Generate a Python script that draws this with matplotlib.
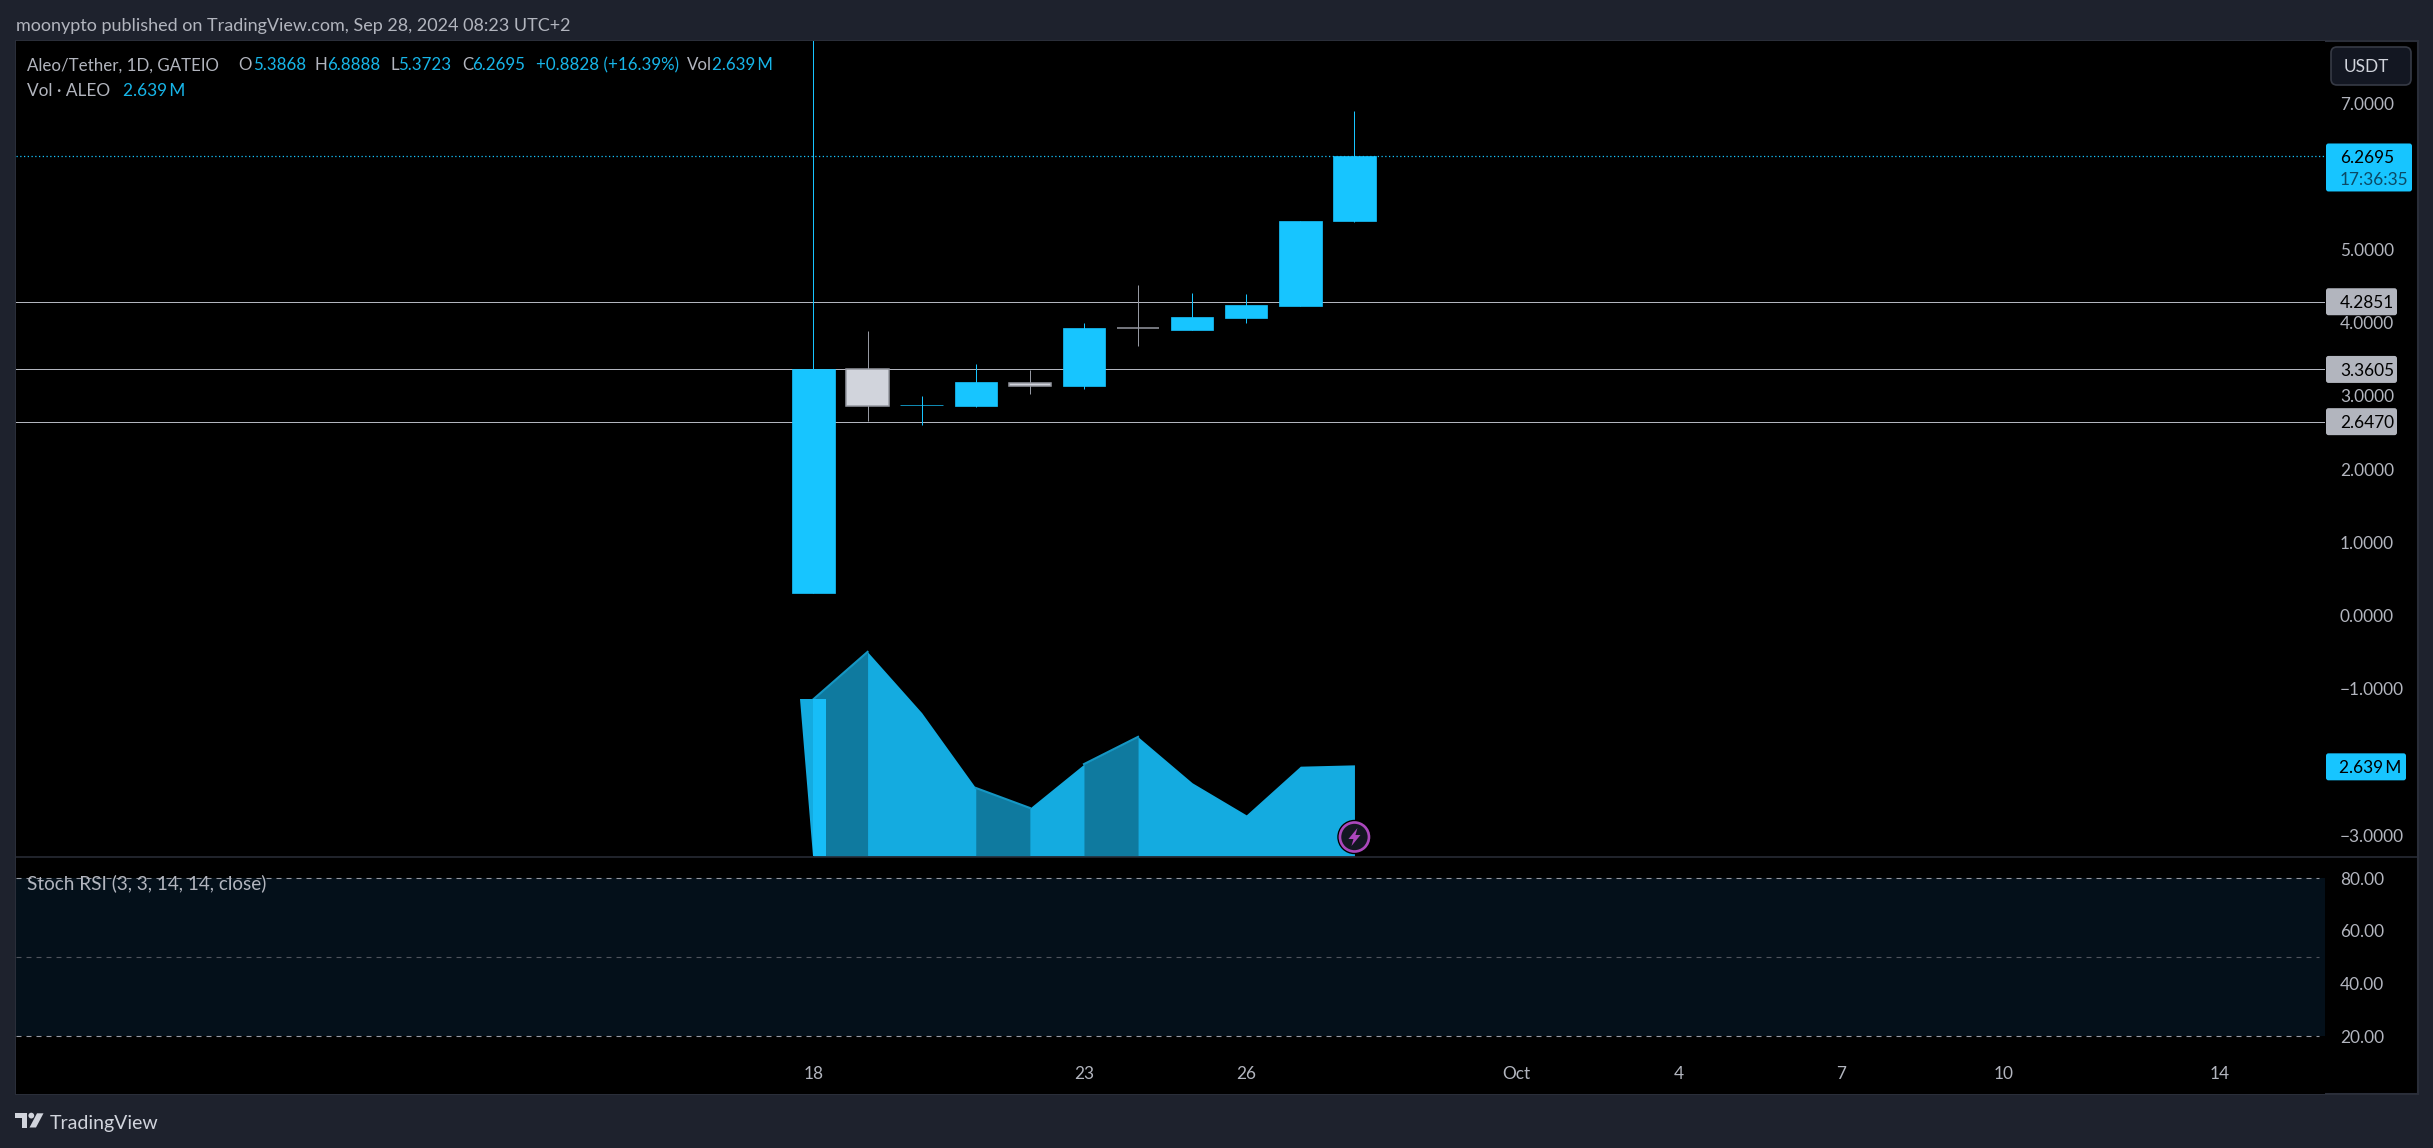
import matplotlib
matplotlib.use("Agg")
import matplotlib.pyplot as plt
import numpy as np
from matplotlib.patches import Circle, FancyBboxPatch, Polygon, Rectangle

W, H = 2433, 1148
plt.rcParams["font.family"] = ["Lato", "DejaVu Sans"]

# daily candles, Sep 18 - Sep 28
opens = [0.30, 3.36, 2.87, 2.86, 3.17, 3.13, 3.925, 3.90, 4.06, 4.23, 5.3868]
highs = [9.00, 3.885, 3.00, 3.435, 3.35, 3.995, 4.51, 4.405, 4.39, 5.39, 6.8888]
lows = [0.30, 2.66, 2.607, 2.85, 3.03, 3.09, 3.68, 3.90, 3.995, 4.23, 5.3723]
closes = [3.36, 2.865, 2.875, 3.19, 3.14, 3.93, 3.92, 4.08, 4.24, 5.39, 6.2695]
volumes = [4.54, 5.91, 4.15, 1.97, 1.39, 2.66, 3.45, 2.12, 1.19, 2.60, 2.639]
vol_dark = [1, 0, 0, 1, 0, 1, 0, 0, 0, 0]

levels = [4.2851, 3.3605, 2.6470]
last_price = 6.2695
price_ticks = [7, 5, 4, 3, 2, 1, 0, -1, -3]
stoch_ticks = [80, 60, 40, 20]
stoch_lines = [80, 50, 20]
date_pos = [0, 5, 8, 13, 16, 19, 22, 26]
date_labels = ["18", "23", "26", "Oct", "4", "7", "10", "14"]

BG = "#1e222d"
BORDER = "#2a2e39"
TXT = "#b2b5be"
BLUE = "#17c5ff"
LEG_BLUE = "#17b5e8"
GREY = "#9598a1"
FS = 12.4
X0, X1 = -14.75, 27.94


def box(left, top, right, bottom):
    return [left / W, 1 - bottom / H, (right - left) / W, (bottom - top) / H]


fig = plt.figure(figsize=(W / 100, H / 100), dpi=100, facecolor=BG)

# black pane behind everything, price scale included
bg = fig.add_axes([0, 0, 1, 1], zorder=0)
bg.set_xlim(0, W)
bg.set_ylim(H, 0)
bg.axis("off")
bg.add_patch(Rectangle((15.5, 41), 2402.5, 1053, fc="black", ec=BORDER, lw=1.5))

ax = fig.add_axes(box(15.5, 41, 2325, 857), zorder=1, facecolor="black")
ax_st = fig.add_axes(box(15.5, 857, 2325, 1094), zorder=1, facecolor="black")
for a in (ax, ax_st):
    for s in a.spines.values():
        s.set_visible(False)
    a.set_xlim(X0, X1)

x = np.arange(len(closes))
ax.set_ylim(-3.30, 7.847)

for lv in levels:
    ax.axhline(lv, color=TXT, lw=0.72, zorder=2)
ax.axhline(last_price, color=BLUE, lw=0.9, ls=(0, (1, 2)), zorder=2)

for i in x:
    up = closes[i] >= opens[i]
    ax.vlines(i, lows[i], highs[i], color=BLUE if up else GREY, lw=0.72, zorder=3)
    low_body = min(opens[i], closes[i])
    height = abs(closes[i] - opens[i])
    if up:
        ax.bar(i, height, 0.785, bottom=low_body, color=BLUE, ec=BLUE, lw=0.5, zorder=4)
    else:
        ax.bar(i, height, 0.785, bottom=low_body, color="#d1d4dc", ec=GREY, lw=1.1, zorder=4)

# volume area sits on its own scale at the bottom of the price pane
ax_v = ax.twinx()
ax_v.set_ylim(-0.03, 23.6)
ax_v.axis("off")
LIGHT = "#14abe0"
DARK = "#0f7a9f"
ax_v.fill_between(x, volumes, color=LIGHT, lw=0, zorder=2)
for i in range(len(volumes) - 1):
    if vol_dark[i]:
        ax_v.fill_between(x[i:i + 2], volumes[i:i + 2], color=DARK, lw=0, zorder=2)
        ax_v.plot(x[i:i + 2], volumes[i:i + 2], color="#1597c4", lw=1.5, zorder=3)
ax_v.fill([x[0] - 0.257, x[0], x[0]], [volumes[0], volumes[0], 0], color=LIGHT, lw=0, zorder=3)
ax_v.bar(x[0], volumes[0], 0.24, align="edge", color="#17bdf7", lw=0, zorder=3)

# twinx moves the ticks to the left, so set them after it
ax.set_yticks(price_ticks)
ax.set_yticklabels([f"{v:.4f}".replace("-", "\u2212") for v in price_ticks])
ax.yaxis.tick_right()
ax.tick_params(axis="y", length=0, pad=10.8, labelsize=FS, labelcolor=TXT)
ax.set_xticks([])

# stoch rsi pane
ax_st.set_ylim(-2.03, 88)
ax_st.axhspan(stoch_lines[-1], stoch_lines[0], color="#04101a", lw=0, zorder=1)
ax_st.hlines(stoch_lines, X0, X1 - 0.11, colors=[GREY, "#4f535c", GREY], lw=0.8,
             linestyles=[(0, (4.5, 4.5))], zorder=2)
ax_st.set_yticks(stoch_ticks)
ax_st.set_yticklabels([f"{v:.2f}" for v in stoch_ticks])
ax_st.yaxis.tick_right()
ax_st.tick_params(axis="y", length=0, pad=10.8, labelsize=FS, labelcolor=TXT)
ax_st.set_xticks(date_pos)
ax_st.set_xticklabels(date_labels)
ax_st.tick_params(axis="x", length=0, pad=-20, labelsize=FS, labelcolor=TXT)

# overlay in pixels for chrome
ov = fig.add_axes([0, 0, 1, 1], zorder=5)
ov.set_xlim(0, W)
ov.set_ylim(H, 0)
ov.axis("off")
ov.patch.set_alpha(0)
ov.plot([15.5, 2418], [857, 857], color=BORDER, lw=1.1)


def ypx(a, v):
    return H - a.transData.transform((0, v))[1]


def xpx(a, v):
    return a.transData.transform((v, 0))[0]


def label(left, right, top, bottom, color):
    ov.add_patch(FancyBboxPatch((left, top), right - left, bottom - top, fc=color, ec="none",
                                boxstyle="round,pad=0,rounding_size=2.5"))


def t(px, py, s, color=TXT, size=FS, ha="left", **kw):
    ov.text(px, py, s, color=color, fontsize=size, ha=ha, va="center_baseline", **kw)


# header and legend
t(15.5, 24, "moonypto published on TradingView.com, Sep 28, 2024 08:23 UTC+2", size=13)
for px, s, c in [(27, "Aleo/Tether, 1D, GATEIO", TXT), (238.5, "O", TXT), (252.6, "5.3868", LEG_BLUE),
                 (315, "H", TXT), (327, "6.8888", LEG_BLUE), (391, "L", TXT), (398, "5.3723", LEG_BLUE),
                 (462, "C", TXT), (472, "6.2695", LEG_BLUE), (536, "+0.8828 (+16.39%)", LEG_BLUE),
                 (687, "Vol", TXT), (712, "2.639\u2009M", LEG_BLUE)]:
    t(px, 64, s, color=c, size=12.2)
t(27, 90, "Vol \u00b7 ALEO")
t(123, 90, "2.639\u2009M", color=LEG_BLUE)
t(27, 882, "Stoch RSI (3, 3, 14, 14, close)", size=13.6)

# USDT button
ov.add_patch(FancyBboxPatch((2331, 47), 80, 38, fc="#131722", ec="#363a45", lw=1.2,
                            boxstyle="round,pad=0,rounding_size=6"))
t(2366, 66, "USDT", color="#d1d4dc", ha="center")

# price labels
y_last = ypx(ax, last_price)
label(2326, 2412, y_last - 13, y_last + 35, BLUE)
t(2340, y_last, f"{last_price:.4f}", color="black")
t(2340, y_last + 22, "17:36:35", color="#0b4a66")
for lv in levels:
    yl = ypx(ax, lv)
    label(2326, 2397, yl - 13.5, yl + 13.5, TXT)
    t(2340, yl, f"{lv:.4f}", color="black")
y_vol = ypx(ax_v, volumes[-1]) + 2
label(2326, 2406, y_vol - 13.5, y_vol + 13.5, BLUE)
t(2339, y_vol, "2.639\u2009M", color="black")

# news marker on the last bar
cx, cy = xpx(ax_v, x[-1]), 837
ov.add_patch(Circle((cx, cy), 16.5, fc="#131722", ec="black", lw=1))
ov.add_patch(Circle((cx, cy), 14.5, fc="#131722", ec="#ab47bc", lw=1.9))
ov.add_patch(Polygon(np.array([[3, -9], [-6, 2], [-1, 2], [-3, 9], [6, -2], [1, -2]]) + [cx, cy],
                     fc="#ab47bc", ec="none"))

# TradingView logo
LOGO = "#d1d4dc"
ov.add_patch(Polygon([[15.3, 1113.3], [27.3, 1113.3], [27.3, 1127.5], [22, 1127.5], [22, 1118], [15.3, 1118]],
                     fc=LOGO, ec="none"))
ov.add_patch(Circle((31.3, 1115.6), 2.9, fc=LOGO, ec="none"))
ov.add_patch(Polygon([[37, 1113.3], [43.5, 1113.3], [36, 1127.5], [29.5, 1127.5]], fc=LOGO, ec="none"))
t(50, 1122, "TradingView", color=LOGO, size=14)

fig.savefig("out.png", dpi=100, facecolor=BG)
